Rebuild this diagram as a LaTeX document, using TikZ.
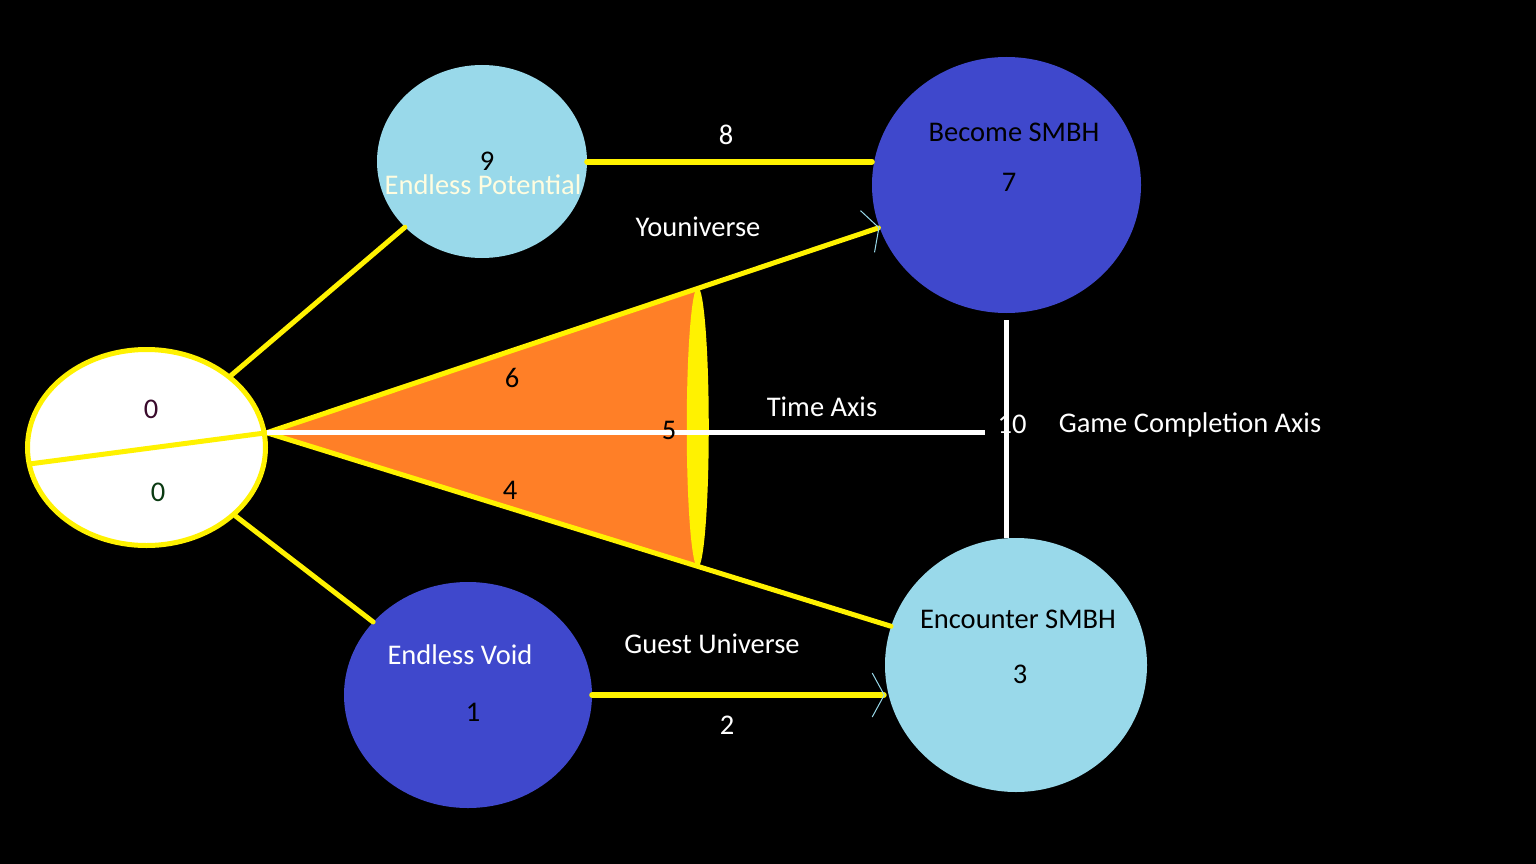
\documentclass[tikz,border=0pt]{standalone}
\usepackage{fontspec}
\setmainfont{Carlito}
\usetikzlibrary{arrows.meta,calc,shapes.geometric}
\definecolor{paintblue}{HTML}{3F48CC}
\definecolor{paintsky}{HTML}{99D9EA}
\definecolor{paintorange}{HTML}{FF7F27}
\definecolor{paintyellow}{HTML}{FFF200}
\definecolor{zerotop}{HTML}{3A0A2C}
\definecolor{zerobot}{HTML}{0A3A12}

\begin{document}
\begin{tikzpicture}[x=1pt, y=-1pt,
		every node/.style={font=\fontsize{28.5}{34}\selectfont, inner sep=0pt, text depth=0pt},
		stage/.style={ellipse, inner sep=0pt},
		yline/.style={draw=paintyellow, line width=5pt, line cap=round},
		wline/.style={draw=white, line width=5pt},
		barb/.style={-{Straight Barb[color=paintsky, line width'=1pt, length=12pt 0 0, width=44pt 0 0]}},
		light/.style={text=white}]
	\fill[black] (0,0) rectangle (1536,864);
	\useasboundingbox (0,0) rectangle (1536,864);
	\node[stage, fill=white, draw=paintyellow, line width=5pt, minimum width=238pt, minimum height=196pt] (big) at (146.5,447.5) {};
	\node[stage, fill=paintsky, minimum width=210pt, minimum height=193pt] (potential) at (482,161.5) {};
	\node[stage, fill=paintblue, minimum width=269pt, minimum height=256pt] (become) at (1006.5,185) {};
	\node[stage, fill=paintblue, minimum width=248pt, minimum height=226pt] (void) at (468,695) {};
	\node[stage, fill=paintsky, minimum width=262pt, minimum height=254pt] (encounter) at (1016,665) {};
	\coordinate (bang) at (big.7);
	\coordinate (split) at (big.188);
	\draw[yline, line cap=butt, shorten <=3pt] (split) -- (bang);
	\path ($(bang)!0.583!(become)$) coordinate (rimtop)
		($(bang)!0.575!(encounter)$) coordinate (rimbot);
	\fill[paintorange] (bang) -- (rimtop) -- (rimbot) -- cycle;
	\fill[paintyellow] ($(rimtop)!0.5!(rimbot)$) ellipse [x radius=11pt, y radius=140pt];
	\draw[yline] (big) -- (potential);
	\draw[yline] (big) -- (void);
	\draw[yline, barb] (bang) -- (become);
	\draw[yline] (bang) -- (encounter);
	\draw[yline, line width=6pt] (potential.east) -- (potential.east -| become.west);
	\draw[yline, line width=6pt, barb] (void.east) -- (void.east -| encounter.west);
	\node[light, inner xsep=12pt] (ten) at (1012,424) {10};
	\draw[wline] (bang) -- (bang -| ten.west);
	\draw[wline] ([yshift=-7pt]become.south) -- (become.south |- encounter.north);
	\node[text=zerotop] (zeroa) at (151,409) {0};
	\node[text=zerobot] (zerob) at (158,492) {0};
	\node (nine) at (487,161) {9};
	\node[text=paintyellow!12!white] (potentialtxt) at (483,185) {Endless Potential};
	\node[light] (eight) at (726,135) {8};
	\node[light] (youniverse) at (698,227) {Youniverse};
	\node (becometxt) at (1014,132) {Become SMBH};
	\node (seven) at (1009,182) {7};
	\node (six) at (512,378) {6};
	\node (five) at (669,430) {5};
	\node (four) at (510,490) {4};
	\node[light] (timeaxis) at (822,407) {Time Axis};
	\node[light] (gameaxis) at (1190,423) {Game Completion Axis};
	\node[light] (guest) at (712,644) {Guest Universe};
	\node[light] (two) at (727,725) {2};
	\node[light] (voidtxt) at (460,655) {Endless Void};
	\node (one) at (473,712) {1};
	\node (encountertxt) at (1018,619) {Encounter SMBH};
	\node (three) at (1020,674) {3};
\end{tikzpicture}
\end{document}
